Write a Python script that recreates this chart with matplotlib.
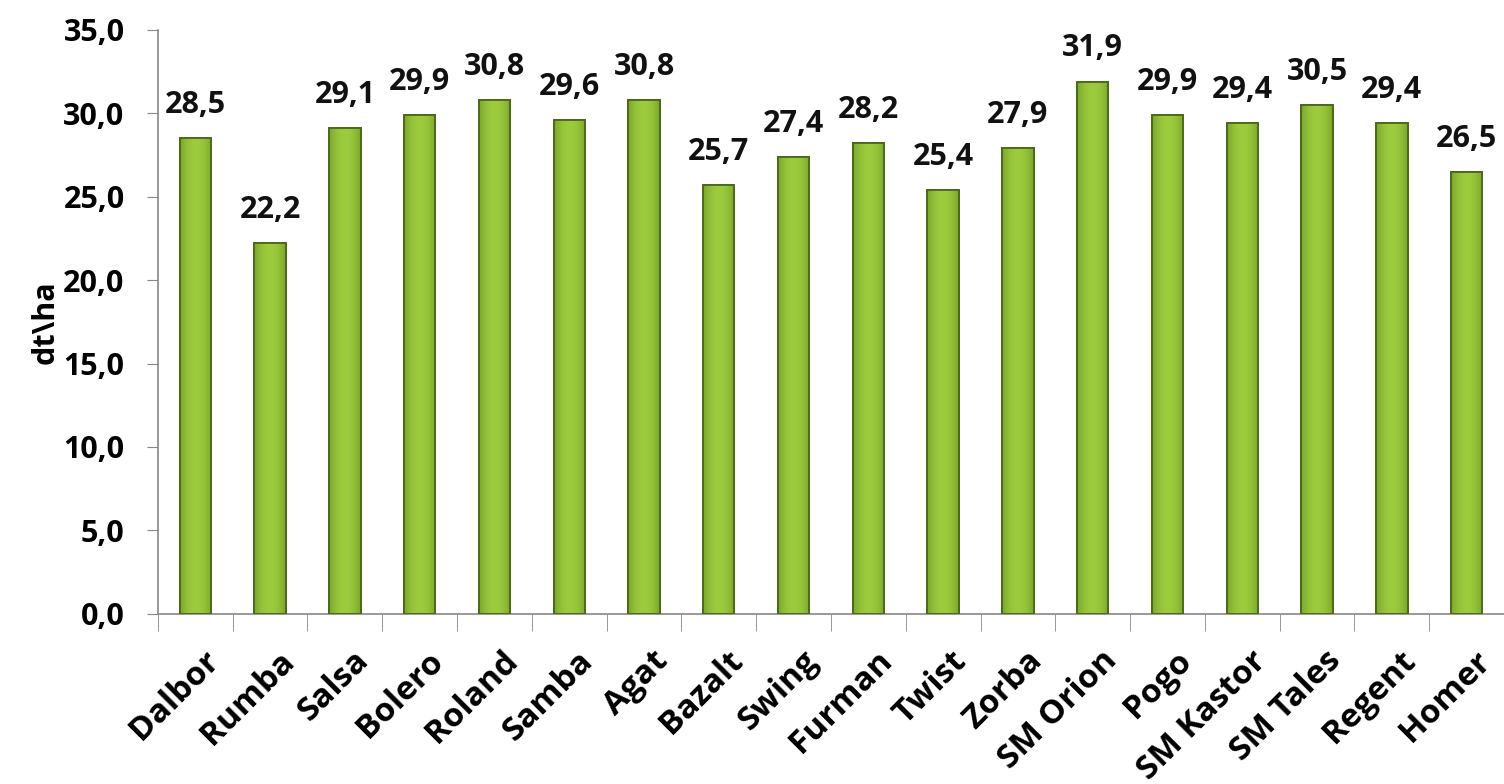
import numpy as np
import matplotlib.pyplot as plt
from matplotlib.patches import Rectangle
from matplotlib.colors import LinearSegmentedColormap

odmiany = ['Dalbor', 'Rumba', 'Salsa', 'Bolero', 'Roland', 'Samba', 'Agat',
           'Bazalt', 'Swing', 'Furman', 'Twist', 'Zorba', 'SM Orion', 'Pogo',
           'SM Kastor', 'SM Tales', 'Regent', 'Homer']
plon = [28.5, 22.2, 29.1, 29.9, 30.8, 29.6, 30.8, 25.7, 27.4, 28.2, 25.4,
        27.9, 31.9, 29.9, 29.4, 30.5, 29.4, 26.5]
y_ticks = [0, 5, 10, 15, 20, 25, 30, 35]

plt.rcParams['font.family'] = ['Open Sans', 'DejaVu Sans']
plt.rcParams['font.weight'] = 'bold'

fig = plt.figure(figsize=(15.04, 7.84), dpi=100)
ax = fig.add_axes([0.105, 0.217, 0.895, 0.745])

x = np.arange(len(odmiany))
szer = 0.42
bars = ax.bar(x, plon, width=szer, color='#8DB83A', edgecolor='#4E6B1C',
              linewidth=1.2, zorder=2)

# lekki gradient w slupkach (ciemniejsze brzegi, jasny srodek)
grad = np.abs(np.linspace(-1, 1, 64)) ** 2
grad = np.vstack([grad, grad])
cmap = LinearSegmentedColormap.from_list('ziel', ['#9CCB3E', '#7AA62D'])
for b in bars:
    im = ax.imshow(grad, cmap=cmap, aspect='auto', zorder=2.5,
                   extent=[b.get_x(), b.get_x() + b.get_width(), 0, b.get_height()])
    im.set_clip_path(b)
    ax.add_patch(Rectangle((b.get_x(), 0), b.get_width(), b.get_height(),
                           fill=False, edgecolor='#4A6619', linewidth=1.3, zorder=3))

for xi, v in zip(x, plon):
    ax.text(xi, v + 1.5, f'{v:.1f}'.replace('.', ','), ha='center', va='baseline',
            fontsize=22, fontweight='bold', color='#111111')

ax.set_xlim(-0.5, len(odmiany) - 0.5)
ax.set_ylim(0, 35)
ax.set_yticks(y_ticks)
ax.set_yticklabels([f'{t:.1f}'.replace('.', ',') for t in y_ticks],
                   fontsize=22, fontweight='bold')
ax.set_xticks(x + 0.1)
ax.set_xticklabels(odmiany, rotation=45, ha='right', rotation_mode='anchor',
                   fontsize=24, fontweight='bold')
ax.set_xticks(np.arange(-0.5, len(odmiany), 1), minor=True)
ax.tick_params(axis='x', which='major', length=0, pad=22)
ax.tick_params(axis='x', which='minor', length=12, color='#888888', direction='out')
ax.tick_params(axis='y', length=8, color='#888888', pad=16)

ax.set_ylabel('dt\\ha', fontsize=22, fontweight='bold', labelpad=2)

for s in ['top', 'right']:
    ax.spines[s].set_visible(False)
for s in ['left', 'bottom']:
    ax.spines[s].set_color('#888888')
    ax.spines[s].set_linewidth(1.2)

fig.savefig('out.png', dpi=100)
